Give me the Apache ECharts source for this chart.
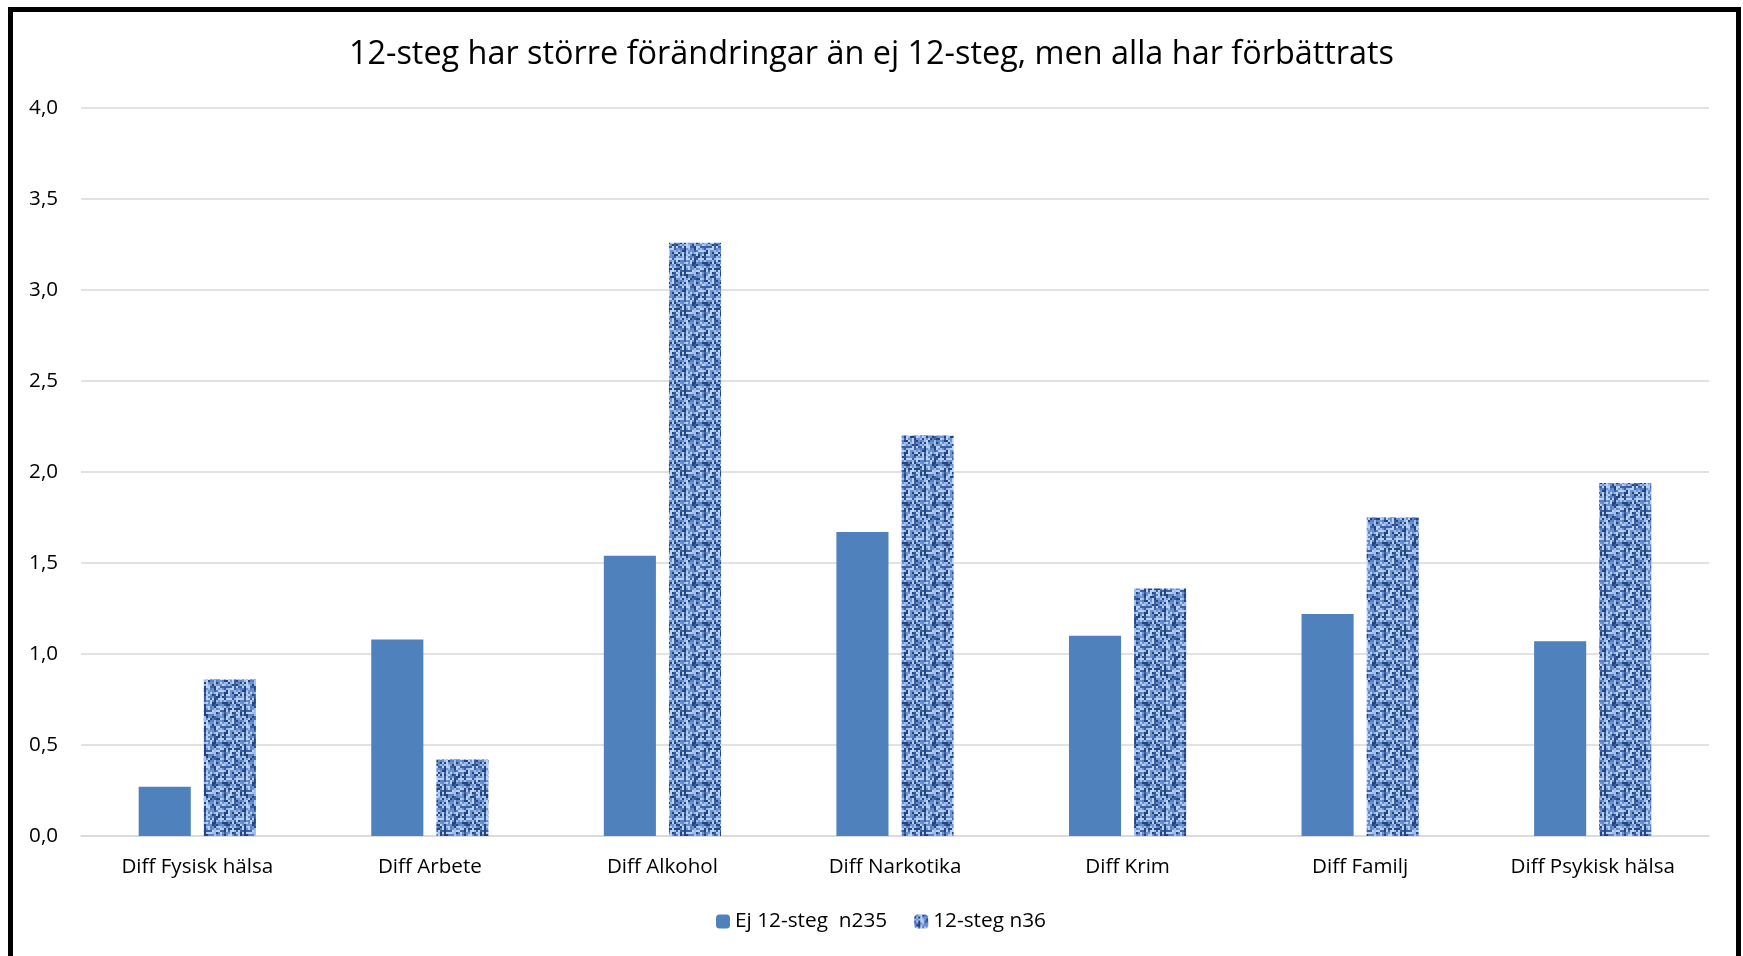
<!DOCTYPE html>
<html>
<head>
<meta charset="utf-8">
<script src="https://cdn.jsdelivr.net/npm/echarts@6/dist/echarts.min.js"></script>
<style>
  html, body { margin: 0; padding: 0; background: #fff; }
  #chart { width: 1743px; height: 956px; }
</style>
</head>
<body>
<div id="chart"></div>
<script>
  // kategorier och värden
  var categories = ['Diff Fysisk hälsa', 'Diff Arbete', 'Diff Alkohol', 'Diff Narkotika', 'Diff Krim', 'Diff Familj', 'Diff Psykisk hälsa'];
  var ej12steg = [0.27, 1.08, 1.54, 1.67, 1.10, 1.22, 1.07];
  var tolvsteg = [0.86, 0.42, 3.26, 2.20, 1.36, 1.75, 1.94];
  var seriesNames = ['Ej 12-steg  n235', '12-steg n36'];

  // vävt mönster för 12-steg staplarna (2x2 px rutor)
  function makeTexture() {
    var n = 20, s = 2;
    var c = document.createElement('canvas');
    c.width = n * s; c.height = n * s;
    var ctx = c.getContext('2d');
    ctx.fillStyle = '#7fa3dd';
    ctx.fillRect(0, 0, n * s, n * s);
    var cols = ['#24447f', '#3a5fa3', '#5a7fc0', '#9dbcef', '#b9d1f7', '#6d92d2'];
    for (var y = 0; y < n; y++) {
      for (var x = 0; x < n; x++) {
        var h = Math.imul(x + 1, 0x9e3779b1) ^ Math.imul(y + 7, 0x85ebca6b);
        h = (h ^ (h >>> 13)) >>> 0;
        h = Math.imul(h, 0xc2b2ae35) >>> 0;
        h = (h ^ (h >>> 16)) >>> 0;
        var v = h % 10;
        var col;
        if (x % 5 === 2) col = v < 6 ? cols[v % 2] : cols[3];
        else if (y % 6 === 3) col = v < 5 ? cols[1] : cols[4];
        else col = v < 2 ? cols[0] : v < 4 ? cols[2] : v < 7 ? cols[5] : cols[3 + (v % 2)];
        ctx.fillStyle = col;
        ctx.fillRect(x * s, y * s, s, s);
      }
    }
    return c;
  }

  var mainChart = echarts.init(document.getElementById('chart'));
  var font = '"Open Sans", sans-serif';
  var option = {
    animation: false,
    title: {
      text: '12-steg har större förändringar än ej 12-steg, men alla har förbättrats',
      left: 'center',
      top: 34,
      textStyle: { fontFamily: font, fontSize: 32.4, fontWeight: 'normal', color: '#000' }
    },
    legend: {
      data: seriesNames,
      bottom: 19,
      left: 711,
      itemWidth: 14,
      itemHeight: 14,
      itemGap: 27,
      textStyle: { fontFamily: font, fontSize: 20.8, color: '#000' }
    },
    grid: { left: 81, right: 34, top: 108, bottom: 120 },
    xAxis: {
      type: 'category',
      data: categories,
      axisTick: { show: false },
      axisLine: { lineStyle: { color: '#d9d9d9', width: 1.5 } },
      axisLabel: { fontFamily: font, fontSize: 20.6, color: '#000', margin: 21 }
    },
    yAxis: {
      type: 'value',
      min: 0,
      max: 4,
      interval: 0.5,
      axisLine: { show: false },
      axisTick: { show: false },
      splitLine: { lineStyle: { color: '#d9d9d9', width: 1.5 } },
      axisLabel: {
        fontFamily: font, fontSize: 20.6, color: '#000', margin: 23,
        formatter: function (v) { return v.toFixed(1).replace('.', ','); }
      }
    },
    series: [
      {
        name: seriesNames[0],
        type: 'bar',
        data: ej12steg,
        barWidth: '22.4%',
        barGap: '25%',
        itemStyle: { color: '#4f81bd' }
      },
      {
        name: seriesNames[1],
        type: 'bar',
        data: tolvsteg,
        barWidth: '22.4%',
        itemStyle: { color: { image: makeTexture(), repeat: 'repeat' } }
      }
    ],
    graphic: [
      {
        type: 'polyline',
        silent: true,
        shape: { points: [[10.5, 960], [10.5, 9.5], [1738.5, 9.5], [1738.5, 960]] },
        style: { stroke: '#000', lineWidth: 5, fill: null }
      }
    ]
  };
  mainChart.setOption(option, true);
</script>
</body>
</html>
